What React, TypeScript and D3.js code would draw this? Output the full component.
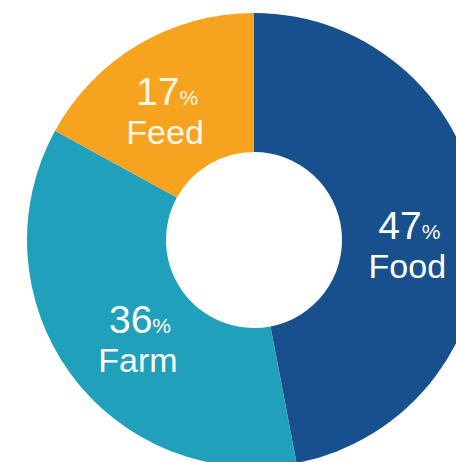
import React from "react";
import * as d3 from "d3";

// Share of the total by segment
const categories = ["Food", "Farm", "Feed"];
const shares = [47, 36, 17];
const colors = ["#17508d", "#21a0bb", "#f6a420"];
const textColors = ["#ffffff", "#ffffff", "#fff8e4"];
// Small per-label nudges from the slice centroid (px)
const labelNudgeX = [-1, 13, -7];
const labelNudgeY = [20, 7, 6];

const WIDTH = 456;
const HEIGHT = 462;

export default function App() {
  const cx = 254;
  const cy = 240;
  const outerR = 227;
  const innerR = 88;
  const labelR = 157;

  const data = categories.map((c, i) => ({ name: c, value: shares[i], i }));
  const pie = d3
    .pie<{ name: string; value: number; i: number }>()
    .value((d) => d.value)
    .sort(null)
    .startAngle(0)
    .endAngle(2 * Math.PI);
  const arcs = pie(data);

  const arc = d3
    .arc<d3.PieArcDatum<{ name: string; value: number; i: number }>>()
    .innerRadius(innerR)
    .outerRadius(outerR);
  const labelArc = d3
    .arc<d3.PieArcDatum<{ name: string; value: number; i: number }>>()
    .innerRadius(labelR)
    .outerRadius(labelR);

  const font = "'Liberation Sans', Arial, Helvetica, sans-serif";

  return (
    <svg
      width={WIDTH}
      height={HEIGHT}
      viewBox={`0 0 ${WIDTH} ${HEIGHT}`}
      style={{ position: "fixed", left: 0, top: 0, display: "block", background: "#ffffff" }}
    >
      <g transform={`translate(${cx},${cy})`}>
        {arcs.map((a) => (
          <path key={a.data.name} d={arc(a) ?? ""} fill={colors[a.data.i]} />
        ))}
        {arcs.map((a) => {
          const [x0, y0] = labelArc.centroid(a);
          const x = x0 + labelNudgeX[a.data.i];
          const y = y0 + labelNudgeY[a.data.i];
          const fill = textColors[a.data.i];
          return (
            <g key={`lbl-${a.data.name}`} fontFamily={font} fill={fill} textAnchor="middle">
              <text x={x} y={y - 6}>
                <tspan fontSize={39}>{a.data.value}</tspan>
                <tspan fontSize={21}>%</tspan>
              </text>
              <text x={x - 2} y={y + 33} fontSize={34}>
                {a.data.name}
              </text>
            </g>
          );
        })}
      </g>
    </svg>
  );
}
